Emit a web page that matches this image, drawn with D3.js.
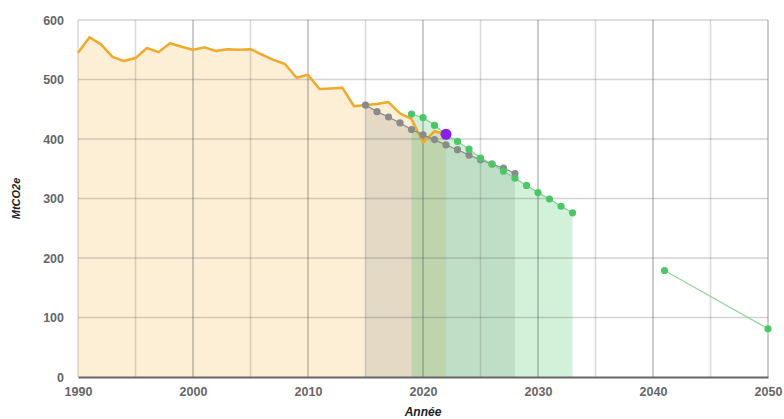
<!DOCTYPE html>
<html>
<head>
<meta charset="utf-8">
<script src="https://cdn.jsdelivr.net/npm/d3@7"></script>
<style>
  body { margin: 0; background: #fff; }
  text { font-family: "Liberation Sans", Arial, sans-serif; }
</style>
</head>
<body>
<div id="chart"></div>
<script>
// historique (ligne orange)
const histYears = [1990, 1991, 1992, 1993, 1994, 1995, 1996, 1997, 1998, 1999, 2000, 2001,
  2002, 2003, 2004, 2005, 2006, 2007, 2008, 2009, 2010, 2011, 2012, 2013, 2014, 2015,
  2016, 2017, 2018, 2019, 2020, 2021, 2022];
const histValues = [545, 571, 559, 538, 531, 536, 553, 546, 561, 555, 550, 554,
  548, 551, 550, 551, 542, 533, 526, 503, 508, 484, 485, 486, 455, 457,
  459, 462, 443, 434, 394, 413, 408];

// trajectoire grise
const grayYears = [2015, 2016, 2017, 2018, 2019, 2020, 2021, 2022, 2023, 2024, 2025, 2026, 2027, 2028];
const grayValues = [457, 446, 437, 427, 416, 407, 399, 390, 382, 373, 365, 358, 351, 342];

// trajectoire verte
const greenYears = [2019, 2020, 2021, 2022, 2023, 2024, 2025, 2026, 2027, 2028, 2029, 2030, 2031, 2032, 2033];
const greenValues = [442, 436, 423, 408, 396, 383, 368, 358, 346, 334, 322, 310, 299, 287, 276];

// cibles long terme
const targetYears = [2041, 2050];
const targetValues = [179, 81];

// point actuel
const currentYear = [2022];
const currentValue = [408];

const xTicks = [1990, 2000, 2010, 2020, 2030, 2040, 2050];
const yTicks = [0, 100, 200, 300, 400, 500, 600];

const width = 784, height = 419;
const margin = {top: 20, right: 16, bottom: 42, left: 78};

const svg = d3.select("#chart").append("svg")
  .attr("width", width)
  .attr("height", height);

const x = d3.scaleLinear().domain([1990, 2050]).range([margin.left, width - margin.right]);
const y = d3.scaleLinear().domain([0, 600]).range([height - margin.bottom, margin.top]);

const zip = (xs, ys) => xs.map((d, i) => ({year: d, value: ys[i]}));
const hist = zip(histYears, histValues);
const gray = zip(grayYears, grayValues);
const green = zip(greenYears, greenValues);
const target = zip(targetYears, targetValues);
const current = zip(currentYear, currentValue);

const area = d3.area().x(d => x(d.year)).y0(y(0)).y1(d => y(d.value));
const line = d3.line().x(d => x(d.year)).y(d => y(d.value));

// surfaces
svg.append("path").datum(hist).attr("d", area).attr("fill", "#fcefd5");
svg.append("path").datum(gray).attr("d", area).attr("fill", "#8c8c8c").attr("fill-opacity", 0.22);
svg.append("path").datum(green).attr("d", area).attr("fill", "#4cc767").attr("fill-opacity", 0.25);

// grille
const grid = svg.append("g");
grid.selectAll(".hg").data(d3.range(100, 601, 100)).enter().append("line")
  .attr("x1", margin.left).attr("x2", width - margin.right)
  .attr("y1", d => y(d)).attr("y2", d => y(d))
  .attr("stroke", "#555").attr("stroke-opacity", 0.25).attr("stroke-width", 1.5);
grid.selectAll(".vg").data(d3.range(1990, 2051, 5)).enter().append("line")
  .attr("x1", d => x(d)).attr("x2", d => x(d))
  .attr("y1", y(0)).attr("y2", y(600))
  .attr("stroke", "#555")
  .attr("stroke-opacity", d => d % 10 === 0 && d !== 1990 ? 0.4 : 0.22)
  .attr("stroke-width", 1.5);

// axes
const xAxis = svg.append("g")
  .attr("transform", `translate(0,${y(0)})`)
  .call(d3.axisBottom(x).tickValues(xTicks).tickFormat(d3.format("d")).tickSize(0).tickPadding(10));
xAxis.select(".domain").attr("stroke", "#666").attr("stroke-width", 2);

const yAxis = svg.append("g")
  .attr("transform", `translate(${margin.left},0)`)
  .call(d3.axisLeft(y).tickValues(yTicks).tickSize(0).tickPadding(14));
yAxis.select(".domain").remove();

svg.selectAll(".tick text")
  .attr("fill", "#666")
  .attr("font-size", "12.5px")
  .attr("font-weight", "bold")
  .style("font-family", "'Liberation Sans', Arial, sans-serif");

// lignes
svg.append("path").datum(hist).attr("d", line)
  .attr("fill", "none").attr("stroke", "#f0a92a").attr("stroke-width", 2.5)
  .attr("stroke-linejoin", "round");
svg.append("path").datum(gray).attr("d", line)
  .attr("fill", "none").attr("stroke", "#8a8a8a").attr("stroke-width", 1.2);
svg.append("path").datum(green).attr("d", line)
  .attr("fill", "none").attr("stroke", "#7ed190").attr("stroke-width", 1.2);
svg.append("path").datum(target).attr("d", line)
  .attr("fill", "none").attr("stroke", "#8dd89c").attr("stroke-width", 1.2);

// points
svg.selectAll(".gdot").data(gray).enter().append("circle")
  .attr("cx", d => x(d.year)).attr("cy", d => y(d.value)).attr("r", 3.6)
  .attr("fill", "#8a8a8a");
svg.selectAll(".vdot").data(green.concat(target)).enter().append("circle")
  .attr("cx", d => x(d.year)).attr("cy", d => y(d.value)).attr("r", 3.6)
  .attr("fill", "#4cc767");
svg.selectAll(".pdot").data(current).enter().append("circle")
  .attr("cx", d => x(d.year)).attr("cy", d => y(d.value)).attr("r", 5.5)
  .attr("fill", "#8a1fe6");

// titres des axes
svg.append("text")
  .attr("transform", `translate(20,${(y(0) + y(600)) / 2}) rotate(-90)`)
  .attr("text-anchor", "middle")
  .attr("font-size", "11px").attr("font-weight", "bold").attr("font-style", "italic")
  .attr("fill", "#222")
  .text("MtCO2e");

svg.append("text")
  .attr("x", (x(1990) + x(2050)) / 2)
  .attr("y", 416)
  .attr("text-anchor", "middle")
  .attr("font-size", "12px").attr("font-weight", "bold").attr("font-style", "italic")
  .attr("fill", "#222")
  .text("Année");
</script>
</body>
</html>
